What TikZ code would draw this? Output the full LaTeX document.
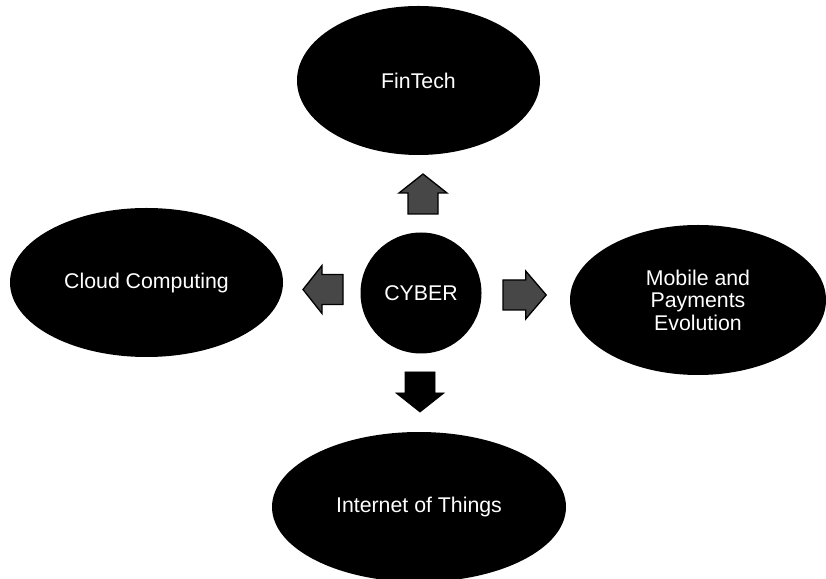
\documentclass[tikz,border=0pt]{standalone}
\usepackage{fontspec}
\setmainfont{Liberation Sans}
\usetikzlibrary{shapes.geometric}
\begin{document}
\begin{tikzpicture}[x=1pt,y=1pt,
  bubble/.style={ellipse, fill=black, text=white, inner sep=0pt,
    font=\fontsize{21.3}{22.5}\selectfont, align=center},
  hub/.style={circle, fill=black, text=white, inner sep=0pt,
    minimum size=121pt, font=\fontsize{21.3}{22.5}\selectfont},
  greyarrow/.style={fill=black!72, draw=black, line width=1.3pt},
  darkarrow/.style={fill=black, draw=black, line width=0.8pt},
  pics/blockarrow/.style={code={
    \path[pic actions] (0,-15) -- (21,-15) -- (21,-24) -- (40,0)
      -- (21,24) -- (21,15) -- (0,15) -- cycle;
  }}
]
\useasboundingbox[fill=white] (0,0) rectangle (826,578);

% central hub and the four topics around it
\node[hub] (cyber) at (421,285) {CYBER};
\node[bubble, minimum width=243pt, minimum height=149pt] (fintech) at (418.5,497.5) {FinTech};
\node[bubble, minimum width=273pt, minimum height=149pt] (cloud) at (146.5,295.5) {Cloud Computing};
\node[bubble, minimum width=256pt, minimum height=150pt] (mobile) at (698,278) {Mobile and\\Payments\\Evolution};
\node[bubble, minimum width=294pt, minimum height=150pt] (iot) at (419,71) {Internet of Things};

% block arrows pointing out of the hub
\pic[greyarrow, rotate=90] (toFin) at (423,364) {blockarrow};
\pic[greyarrow, rotate=180] (toCloud) at (343,288.5) {blockarrow};
\pic[greyarrow, xscale=1.08] (toMobile) at (503,283) {blockarrow};
\pic[darkarrow, rotate=-90] (toIot) at (420,206) {blockarrow};
\end{tikzpicture}
\end{document}
